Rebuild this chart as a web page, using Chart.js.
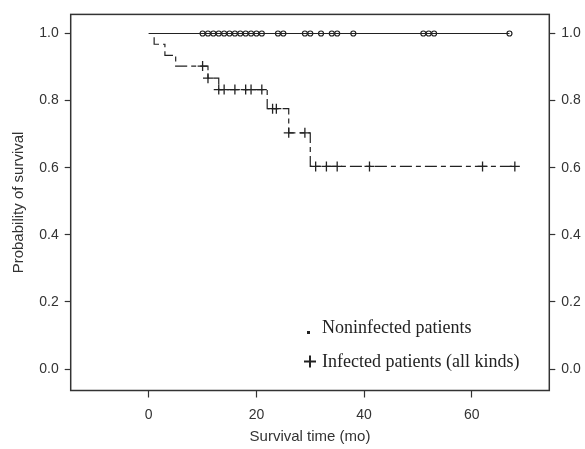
<!DOCTYPE html>
<html>
<head>
<meta charset="utf-8">
<script src="https://cdn.jsdelivr.net/npm/chart.js@4"></script>
<style>
  html, body { margin: 0; padding: 0; background: #fff; }
  #wrap { width: 585px; height: 449px; position: relative; }
</style>
</head>
<body>
<div id="wrap"><canvas id="km"></canvas></div>
<script>
// survival data
const seriesNames = ["Noninfected patients", "Infected patients (all kinds)"];

// noninfected: nobody died, only censored times
const noninfEnd = 67;
const noninfCensorTimes = [10, 11, 12, 13, 14, 15, 16, 17, 18, 19, 20, 21, 24, 25, 29, 30, 32, 34, 35, 38, 51, 52, 53, 67];

// infected: step curve (time, survival after step)
const infTimes = [0, 1, 3, 5, 11, 13, 22, 26, 30, 68];
const infSurv = [1.0, 0.968, 0.935, 0.903, 0.867, 0.833, 0.776, 0.704, 0.604, 0.604];
const infCensorTimes = [10, 11, 13, 14, 16, 18, 19, 21, 23, 23.7, 26, 29, 31, 33, 35, 41, 62, 68];
const infCensorSurv = [0.903, 0.867, 0.833, 0.833, 0.833, 0.833, 0.833, 0.833, 0.776, 0.776, 0.704, 0.704, 0.604, 0.604, 0.604, 0.604, 0.604, 0.604];

const xTicks = [0, 20, 40, 60];
const yTicks = [0, 0.2, 0.4, 0.6, 0.8, 1.0];

const ink = "#222";
const axisInk = "#333";

// box around the plot + legend in the lower right
const boxAndLegend = {
  id: "boxAndLegend",
  afterDraw(chart) {
    const { ctx, chartArea: a } = chart;
    ctx.save();
    ctx.strokeStyle = axisInk;
    ctx.lineWidth = 1.5;
    ctx.strokeRect(a.left, a.top, a.right - a.left, a.bottom - a.top);

    ctx.fillStyle = ink;
    ctx.font = "18px 'Liberation Serif', 'Times New Roman', serif";
    ctx.textBaseline = "alphabetic";
    ctx.fillText(seriesNames[0], 322, 333);
    ctx.fillText(seriesNames[1], 322, 367);
    // tiny dot marker
    ctx.fillRect(307, 331, 3, 3);
    // bold plus marker
    ctx.strokeStyle = ink;
    ctx.lineWidth = 2;
    ctx.beginPath();
    ctx.moveTo(304, 361.5); ctx.lineTo(316, 361.5);
    ctx.moveTo(310, 355.5); ctx.lineTo(310, 367.5);
    ctx.stroke();
    ctx.restore();
  }
};

const tickFont = { family: "'Liberation Sans', Arial, sans-serif", size: 14 };
const titleFont = { family: "'Liberation Sans', Arial, sans-serif", size: 15 };

function yAxis(position, width, showTitle) {
  return {
    type: "linear",
    position: position,
    min: -0.064,
    max: 1.057,
    afterBuildTicks: s => { s.ticks = yTicks.map(v => ({ value: v })); },
    afterFit: s => { s.width = width; },
    border: { display: false },
    grid: { drawOnChartArea: false, drawTicks: true, tickLength: 6, tickColor: axisInk, tickWidth: 1.2 },
    ticks: { color: axisInk, font: tickFont, padding: 6, callback: v => v.toFixed(1) },
    title: { display: showTitle, text: "Probability of survival", color: axisInk, font: titleFont, padding: { top: 9.5, bottom: 0 } }
  };
}

new Chart(document.getElementById("km"), {
  type: "scatter",
  data: {
    datasets: [
      {
        label: seriesNames[0],
        type: "line",
        data: [{ x: 0, y: 1 }, { x: noninfEnd, y: 1 }],
        borderColor: ink,
        borderWidth: 1.2,
        pointRadius: 0,
        yAxisID: "y"
      },
      {
        label: seriesNames[0] + " censored",
        data: noninfCensorTimes.map(t => ({ x: t, y: 1 })),
        pointStyle: "circle",
        pointRadius: 2.5,
        borderColor: ink,
        backgroundColor: "#fff",
        borderWidth: 1.2,
        yAxisID: "y"
      },
      {
        label: seriesNames[1],
        type: "line",
        data: infTimes.map((t, i) => ({ x: t, y: infSurv[i] })),
        stepped: "before",
        borderColor: ink,
        borderWidth: 1.2,
        borderDash: [5, 4, 12, 4],
        pointRadius: 0,
        yAxisID: "y"
      },
      {
        label: seriesNames[1] + " censored",
        data: infCensorTimes.map((t, i) => ({ x: t, y: infCensorSurv[i] })),
        pointStyle: "cross",
        pointRadius: 5,
        borderColor: ink,
        borderWidth: 1.3,
        yAxisID: "y"
      }
    ]
  },
  options: {
    responsive: true,
    maintainAspectRatio: false,
    animation: false,
    layout: { padding: { top: 12.7, left: 0, right: 0, bottom: 0 } },
    plugins: { legend: { display: false }, tooltip: { enabled: false } },
    scales: {
      x: {
        type: "linear",
        position: "bottom",
        min: -14.5,
        max: 74.4,
        afterBuildTicks: s => { s.ticks = xTicks.map(v => ({ value: v })); },
        afterFit: s => { s.height = 58.5; },
        border: { display: false },
        grid: { drawOnChartArea: false, drawTicks: true, tickLength: 7, tickColor: axisInk, tickWidth: 1.2 },
        ticks: { color: axisInk, font: tickFont, padding: 9, maxRotation: 0 },
        title: { display: true, text: "Survival time (mo)", color: axisInk, font: titleFont, padding: { top: 0, bottom: 3 } }
      },
      y: yAxis("left", 70.7, true),
      y2: yAxis("right", 35.7, false)
    }
  },
  plugins: [boxAndLegend]
});
</script>
</body>
</html>
